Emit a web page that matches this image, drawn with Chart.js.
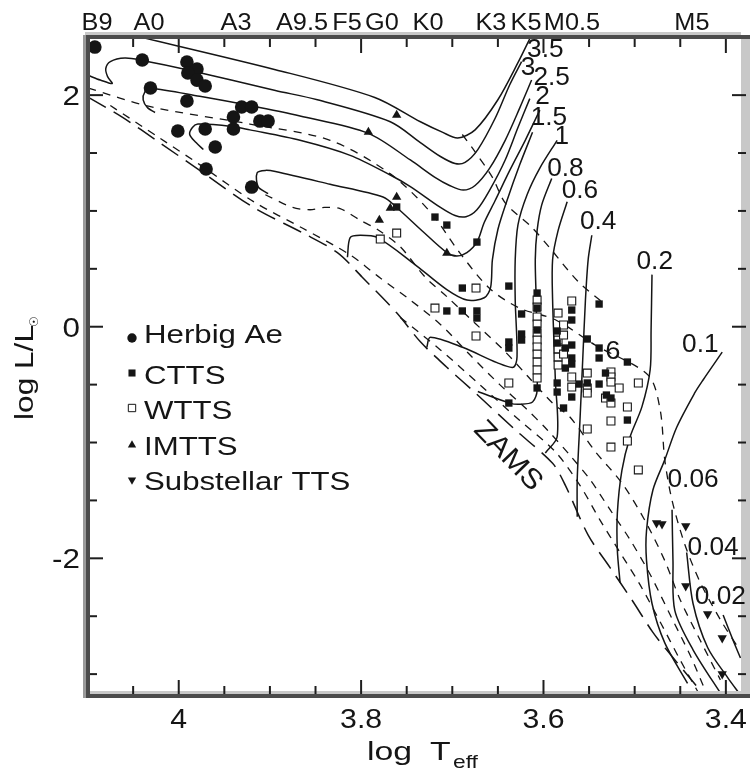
<!DOCTYPE html>
<html>
<head>
<meta charset="utf-8">
<title>HR diagram</title>
<script src="https://cdn.jsdelivr.net/npm/chart.js@4.4.1/dist/chart.umd.min.js"></script>
<style>
  html, body { margin: 0; padding: 0; background: #fff; }
  canvas { display: block; }
</style>
</head>
<body>
<canvas id="hrd" width="750" height="776"></canvas>
<script>
(function () {
    "use strict";

    // axis limits; log Teff runs right to left
    const TEFF_RANGE = [3.3834, 4.0995];
    const LUM_RANGE = [-3.189, 2.502];

    const X_TICK_LABELS = [4, 3.8, 3.6, 3.4];
    const Y_TICK_LABELS = [2, 0, -2];

    const SPECTRAL_TYPES = ["B9", "A0", "A3", "A9.5", "F5", "G0", "K0", "K3", "K5", "M0.5", "M5"];
    const SPECTRAL_TEFF = [4.0896, 4.0326, 3.9372, 3.8648, 3.8155, 3.7771, 3.7266, 3.6576, 3.6192, 3.5688, 3.4372];

    // evolutionary tracks, [log Teff, log L]
    const TRACK_UPPER = [[3.613, 2.52], [3.628, 2.28], [3.650, 1.96], [3.675, 1.70], [3.694, 1.63], [3.711, 1.68],
        [3.735, 1.77], [3.785, 1.98], [3.894, 2.22], [4.052, 2.52]];
    const TRACK_3_5 = [[3.624, 2.29], [3.637, 2.09], [3.653, 1.80], [3.672, 1.53], [3.686, 1.42], [3.697, 1.41],
        [3.713, 1.47], [3.735, 1.59], [3.768, 1.77], [3.848, 1.96], [3.894, 2.04], [3.991, 2.22], [4.040, 2.30],
        [4.059, 2.32], [4.075, 2.29], [4.080, 2.23], [4.078, 2.16], [4.073, 2.10], [4.086, 2.13], [4.099, 2.17]];
    const TRACK_3 = [[3.613, 2.13], [3.626, 1.89], [3.642, 1.61], [3.659, 1.37], [3.675, 1.22], [3.688, 1.18],
        [3.703, 1.22], [3.719, 1.29], [3.746, 1.44], [3.792, 1.67], [3.867, 1.82], [3.922, 1.91], [3.977, 1.99],
        [4.031, 2.06], [4.037, 2.03], [4.039, 1.96], [4.034, 1.89], [4.026, 1.85]];
    const TRACK_2_5 = [[3.615, 1.97], [3.628, 1.72], [3.642, 1.44], [3.659, 1.18], [3.673, 1.01], [3.685, 0.95],
        [3.697, 0.96], [3.713, 1.03], [3.746, 1.21], [3.768, 1.31], [3.812, 1.48], [3.867, 1.61], [3.922, 1.70],
        [3.942, 1.73], [3.979, 1.75], [3.985, 1.72], [3.988, 1.66], [3.981, 1.59], [3.973, 1.53]];
    const TRACK_2 = [[3.604, 1.87], [3.620, 1.61], [3.637, 1.35], [3.653, 1.09], [3.665, 0.90], [3.673, 0.73],
        [3.684, 0.64], [3.695, 0.61], [3.706, 0.64], [3.732, 0.82], [3.761, 1.03], [3.776, 1.12], [3.834, 1.23],
        [3.894, 1.34], [3.905, 1.35], [3.914, 1.33], [3.913, 1.21], [3.902, 1.15]];
    const TRACK_1_5 = [[3.612, 1.68], [3.626, 1.40], [3.640, 1.09], [3.650, 0.84], [3.656, 0.58], [3.658, 0.34],
        [3.665, 0.25], [3.684, 0.23], [3.706, 0.32], [3.743, 0.55], [3.782, 0.77], [3.801, 0.79], [3.812, 0.77],
        [3.815, 0.60]];
    const TRACK_1 = [[3.585, 1.61], [3.604, 1.37], [3.618, 1.14], [3.628, 0.88], [3.631, 0.58], [3.631, 0.23],
        [3.629, -0.26], [3.633, -0.35], [3.651, -0.31], [3.688, -0.18], [3.724, -0.09], [3.728, -0.18]];
    const TRACK_0_8 = [[3.591, 1.28], [3.602, 1.05], [3.607, 0.83], [3.609, 0.58], [3.608, 0.23], [3.607, -0.55],
        [3.612, -0.65], [3.626, -0.67], [3.637, -0.66], [3.672, -0.56]];
    const TRACK_0_6 = [[3.574, 1.08], [3.584, 0.83], [3.590, 0.58], [3.590, 0.23], [3.587, -0.46], [3.585, -0.95],
        [3.598, -1.09]];
    const TRACK_0_4 = [[3.547, 0.79], [3.551, 0.58], [3.554, 0.23], [3.557, -0.29], [3.560, -0.81], [3.563, -1.32],
        [3.563, -1.64]];
    const TRACK_0_2 = [[3.481, 0.45], [3.482, -0.03], [3.483, -0.37], [3.492, -0.69], [3.505, -0.95], [3.514, -1.24],
        [3.519, -1.61], [3.519, -1.93], [3.516, -2.21]];
    const TRACK_0_1 = [[3.404, -0.22], [3.425, -0.46], [3.434, -0.57], [3.454, -0.87], [3.467, -1.15], [3.480, -1.41],
        [3.487, -1.76], [3.487, -2.02], [3.481, -2.39], [3.467, -2.73], [3.442, -3.08]];
    const TRACK_0_06 = [[3.459, -1.58], [3.458, -2.02], [3.456, -2.45], [3.436, -2.79], [3.403, -3.20]];
    const TRACK_0_04 = [[3.443, -1.95], [3.436, -2.39], [3.420, -2.77], [3.398, -3.03], [3.385, -3.17]];
    const TRACK_0_02 = [[3.403, -2.49], [3.392, -2.71], [3.384, -2.86]];

    const TRACKS = [TRACK_UPPER, TRACK_3_5, TRACK_3, TRACK_2_5, TRACK_2, TRACK_1_5, TRACK_1, TRACK_0_8,
        TRACK_0_6, TRACK_0_4, TRACK_0_2, TRACK_0_1, TRACK_0_06, TRACK_0_04, TRACK_0_02];

    const TRACK_LABELS = ["3.5", "3", "2.5", "2", "1.5", "1", "0.8", "0.6", "0.4", "0.2", "0.1", "0.06", "0.04", "0.02"];
    const TRACK_LABEL_AT = [[3.598, 2.407], [3.617, 2.251], [3.591, 2.165], [3.601, 2.001], [3.594, 1.820],
        [3.580, 1.655], [3.576, 1.379], [3.560, 1.188], [3.540, 0.921], [3.478, 0.576], [3.428, -0.141],
        [3.436, -1.307], [3.414, -1.894], [3.406, -2.317]];

    // isochrones
    const ISO_A = [[3.689, 1.66], [3.675, 1.51], [3.656, 1.29], [3.642, 1.07], [3.613, 0.86], [3.593, 0.68],
        [3.562, 0.39], [3.532, 0.19]];
    const ISO_B = [[4.099, 2.06], [4.031, 1.90], [3.922, 1.75], [3.834, 1.61], [3.768, 1.32], [3.724, 0.99],
        [3.692, 0.64], [3.659, 0.33], [3.626, 0.16], [3.587, 0.06], [3.543, -0.16], [3.485, -0.42], [3.472, -0.72],
        [3.467, -1.15], [3.459, -1.50], [3.445, -1.88], [3.428, -2.21], [3.406, -2.53], [3.385, -2.79]];
    const ISO_C = [[3.905, 1.14], [3.875, 1.03], [3.856, 1.01], [3.840, 1.03], [3.823, 1.02], [3.801, 0.92],
        [3.782, 0.84], [3.757, 0.69], [3.730, 0.43], [3.706, 0.26], [3.675, 0.03], [3.644, -0.20], [3.617, -0.43],
        [3.590, -0.66], [3.571, -0.78], [3.543, -1.08], [3.514, -1.35], [3.489, -1.67], [3.467, -2.02],
        [3.450, -2.36], [3.428, -2.71], [3.406, -3.05]];
    const ISO_D = [[4.075, 1.91], [4.021, 1.63], [3.977, 1.40], [3.918, 1.08], [3.864, 0.85], [3.812, 0.62],
        [3.779, 0.42], [3.746, 0.23], [3.713, 0.02], [3.681, -0.24], [3.648, -0.50], [3.620, -0.70], [3.596, -0.89],
        [3.571, -1.11], [3.549, -1.32], [3.527, -1.58], [3.505, -1.84], [3.483, -2.14], [3.461, -2.49],
        [3.439, -2.84], [3.420, -3.19]];
    const ISO_E = [[3.757, 0.08], [3.713, -0.20], [3.670, -0.50], [3.626, -0.81], [3.587, -1.08], [3.560, -1.37],
        [3.538, -1.67], [3.516, -1.95], [3.494, -2.23], [3.472, -2.55], [3.450, -2.88], [3.428, -3.19]];
    const ISOCHRONES = [ISO_A, ISO_B, ISO_C, ISO_D, ISO_E];
    const ISO_LABEL = "6";
    const ISO_LABEL_AT = [3.524, -0.20];

    const ZAMS = [[4.099, 1.98], [4.062, 1.81], [4.021, 1.59], [3.977, 1.35], [3.918, 1.03], [3.864, 0.81],
        [3.826, 0.64], [3.799, 0.43], [3.761, 0.12], [3.735, -0.13], [3.706, -0.35], [3.675, -0.57], [3.631, -0.89],
        [3.590, -1.18], [3.576, -1.37], [3.551, -1.80], [3.527, -2.08], [3.503, -2.36], [3.480, -2.64],
        [3.465, -2.79], [3.423, -3.19]];
    const ZAMS_LABEL_AT = [3.639, -1.117];

    // stars
    const HERBIG_AE = [[4.092, 2.415], [4.040, 2.303], [3.991, 2.286], [3.980, 2.225], [3.990, 2.191], [3.980, 2.130],
        [3.971, 2.079], [4.031, 2.061], [3.991, 1.949], [3.931, 1.897], [3.920, 1.897], [3.940, 1.811], [3.911, 1.776],
        [3.902, 1.776], [4.001, 1.690], [3.971, 1.707], [3.940, 1.707], [3.960, 1.552], [3.970, 1.362], [3.920, 1.206]];
    const CTTS = [[3.761, 1.034], [3.719, 0.947], [3.706, 0.878], [3.673, 0.731], [3.689, 0.334], [3.638, 0.351],
        [3.607, 0.291], [3.607, 0.161], [3.624, 0.110], [3.706, 0.136], [3.689, 0.136], [3.673, 0.136], [3.673, 0.075],
        [3.624, -0.063], [3.624, -0.115], [3.638, -0.132], [3.638, -0.184], [3.607, -0.028], [3.607, -0.529],
        [3.638, -0.659], [3.585, -0.037], [3.585, -0.141], [3.585, -0.486], [3.585, -0.564], [3.578, -0.702],
        [3.569, 0.144], [3.569, 0.058], [3.569, -0.158], [3.569, -0.270], [3.569, -0.322], [3.576, -0.184],
        [3.576, -0.357], [3.569, -0.607], [3.561, -0.495], [3.552, -0.106], [3.552, -0.486], [3.539, 0.196],
        [3.539, -0.184], [3.539, -0.270], [3.539, -0.495], [3.532, -0.400], [3.531, -0.590], [3.526, -0.616],
        [3.508, -0.305], [3.508, -0.806]];
    const WTTS = [[3.779, 0.757], [3.761, 0.809], [3.719, 0.161], [3.674, 0.334], [3.674, -0.080], [3.607, 0.231],
        [3.607, 0.170], [3.607, 0.084], [3.607, 0.023], [3.607, -0.054], [3.607, -0.115], [3.607, -0.175],
        [3.607, -0.236], [3.607, -0.305], [3.607, -0.374], [3.607, -0.443], [3.638, -0.486], [3.584, 0.118],
        [3.584, -0.115], [3.584, -0.193], [3.584, -0.262], [3.584, -0.331], [3.569, 0.222], [3.578, 0.015],
        [3.578, -0.072], [3.578, -0.236], [3.569, -0.434], [3.569, -0.521], [3.552, -0.400], [3.552, -0.529],
        [3.552, -0.573], [3.526, -0.391], [3.526, -0.434], [3.526, -0.478], [3.517, -0.529], [3.496, -0.486],
        [3.532, -0.616], [3.526, -0.659], [3.508, -0.693], [3.526, -0.814], [3.508, -0.987], [3.526, -1.039],
        [3.552, -0.883], [3.496, -1.237]];
    const IMTTS = [[3.761, 1.828], [3.792, 1.681], [3.761, 1.120], [3.768, 1.025], [3.780, 0.921], [3.706, 0.636]];
    const SUBSTELLAR = [[3.476, -1.695], [3.470, -1.704], [3.444, -1.721], [3.444, -2.239], [3.420, -2.481],
        [3.404, -2.688], [3.404, -2.999]];

    const INK = "#151515";
    const FONT = "'Liberation Sans', Arial, sans-serif";

    const pts = arr => arr.map(p => ({ x: p[0], y: p[1] }));

    function curve(arr, dash, width) {
        return {
            data: pts(arr), showLine: true, borderColor: INK, borderWidth: width,
            borderDash: dash, pointRadius: 0, tension: 0.3, order: 2,
        };
    }

    function stars(arr, style, radius, fill, extra) {
        return Object.assign({
            data: pts(arr), showLine: false, pointStyle: style, pointRadius: radius,
            backgroundColor: fill, borderColor: INK, borderWidth: 0, order: 0,
        }, extra || {});
    }

    const datasets = [];
    for (const t of TRACKS) { datasets.push(curve(t, [], 1.5)); }
    for (const iso of ISOCHRONES) { datasets.push(curve(iso, [8, 7], 1.3)); }
    datasets.push(curve(ZAMS, [20, 9], 1.5));
    datasets.push(stars(HERBIG_AE, "circle", 6.8, INK));
    datasets.push(stars(CTTS, "rect", 5.2, INK));
    datasets.push(stars(WTTS, "rect", 5.6, "#fff", { borderWidth: 1.1 }));
    datasets.push(stars(IMTTS, "triangle", 5.4, INK));
    datasets.push(stars(SUBSTELLAR, "triangle", 5.4, INK, { pointRotation: 180 }));

    // text with a horizontal stretch, the lettering in this figure runs wide
    function text(ctx, str, x, y, o) {
        ctx.save();
        ctx.translate(x, y);
        if (o.rotate) { ctx.rotate(o.rotate); }
        ctx.scale(o.stretch || 1, 1);
        ctx.font = o.size + "px " + (o.family || FONT);
        ctx.textAlign = o.align || "left";
        ctx.textBaseline = "alphabetic";
        ctx.fillStyle = INK;
        ctx.fillText(str, 0, 0);
        ctx.restore();
    }

    function line(ctx, x1, y1, x2, y2) {
        ctx.beginPath();
        ctx.moveTo(x1, y1);
        ctx.lineTo(x2, y2);
        ctx.stroke();
    }

    const framePlugin = {
        id: "frame",
        afterDatasetsDraw(chart) {
            const { ctx, chartArea: a, scales } = chart;
            const W = chart.width;
            ctx.save();
            ctx.fillStyle = "#c8c8c8";
            ctx.fillRect(a.right, a.top - 2, W - a.right, a.bottom - a.top + 4);
            ctx.fillRect(a.left - 3, a.top - 5, a.right - a.left + 3, 3);
            ctx.fillRect(a.left, a.bottom - 5, a.right - a.left, 3);
            ctx.fillStyle = "#9a9a9a";
            ctx.fillRect(a.left - 5, a.top - 2, 3, a.bottom - a.top + 4);
            ctx.fillStyle = "#4b4b4b";
            ctx.fillRect(a.left - 2, a.top - 2, 4, a.bottom - a.top + 4);
            ctx.fillRect(a.left - 2, a.top - 2, W - a.left + 2, 4);
            ctx.fillRect(a.left - 2, a.bottom - 2, W - a.left + 2, 4);

            ctx.strokeStyle = "#1e1e1e";
            ctx.lineWidth = 2;
            const xs = scales.x, ys = scales.y;
            for (const t of xs.ticks) {
                const px = xs.getPixelForValue(t.value);
                const major = Math.abs(t.value * 5 - Math.round(t.value * 5)) < 1e-6;
                const len = major ? 14 : 8;
                line(ctx, px, a.bottom - 2, px, a.bottom - 2 - len);
                line(ctx, px, a.top + 2, px, a.top + 2 + len);
            }
            for (const t of ys.ticks) {
                const py = ys.getPixelForValue(t.value);
                if (py < a.top + 5 || py > a.bottom - 5) { continue; }
                const major = Math.abs(t.value / 2 - Math.round(t.value / 2)) < 1e-6;
                const len = major ? 13 : 7;
                line(ctx, a.left + 2, py, a.left + 2 + len, py);
                line(ctx, W - 4, py, W - 5 - len, py);
            }
            ctx.restore();
        },
    };

    const textPlugin = {
        id: "annotations",
        afterDraw(chart) {
            const { ctx, scales } = chart;
            const xs = scales.x, ys = scales.y;

            for (const v of Y_TICK_LABELS) {
                text(ctx, String(v), 80, ys.getPixelForValue(v) + 10, { size: 28, align: "right", stretch: 1.12 });
            }
            for (const v of X_TICK_LABELS) {
                text(ctx, String(v), xs.getPixelForValue(v), 727.5, { size: 27, align: "center", stretch: 1.12 });
            }
            SPECTRAL_TYPES.forEach((s, i) => {
                text(ctx, s, xs.getPixelForValue(SPECTRAL_TEFF[i]), 30, { size: 23, align: "center", stretch: 1.1 });
            });

            // axis titles
            text(ctx, "log", 367, 760, { size: 26, stretch: 1.3 });
            text(ctx, "T", 430, 760, { size: 26, stretch: 1.3 });
            text(ctx, "eff", 453, 768, { size: 19, stretch: 1.2 });
            text(ctx, "log L/L", 33, 420, { size: 26, stretch: 1.217, rotate: -Math.PI / 2 });
            text(ctx, "\u2609", 38, 327, { size: 12, family: "'DejaVu Sans', sans-serif", rotate: -Math.PI / 2 });

            // track masses
            TRACK_LABELS.forEach((s, i) => {
                const p = TRACK_LABEL_AT[i];
                text(ctx, s, xs.getPixelForValue(p[0]), ys.getPixelForValue(p[1]) + 9,
                     { size: 25, align: "center", stretch: 1.05 });
            });
            text(ctx, ISO_LABEL, xs.getPixelForValue(ISO_LABEL_AT[0]), ys.getPixelForValue(ISO_LABEL_AT[1]) + 9,
                 { size: 26, align: "center", stretch: 1.05 });

            // ZAMS, set along the line
            ctx.save();
            ctx.translate(xs.getPixelForValue(ZAMS_LABEL_AT[0]), ys.getPixelForValue(ZAMS_LABEL_AT[1]));
            ctx.rotate(46 * Math.PI / 180);
            ctx.scale(1.1, 1);
            ctx.font = "28px " + FONT;
            ctx.textAlign = "center";
            ctx.textBaseline = "middle";
            ctx.fillStyle = INK;
            ctx.fillText("ZAMS", 0, 0);
            ctx.restore();

            // legend
            const rows = [
                ["Herbig Ae", { pointStyle: "circle", radius: 4.7 }, INK, 338, 343],
                ["CTTS", { pointStyle: "rect", radius: 5 }, INK, 373, 384],
                ["WTTS", { pointStyle: "rect", radius: 5.2, borderWidth: 1 }, "#fff", 408, 419],
                ["IMTTS", { pointStyle: "triangle", radius: 4.8 }, INK, 445, 455],
                ["Substellar TTS", { pointStyle: "triangle", radius: 4.8, rotation: 180 }, INK, 480, 490],
            ];
            for (const [label, sym, fill, sy, by] of rows) {
                ctx.save();
                ctx.fillStyle = fill;
                ctx.strokeStyle = INK;
                ctx.lineWidth = sym.borderWidth || 0;
                Chart.helpers.drawPoint(ctx, Object.assign({ borderWidth: 0, rotation: 0 }, sym), 132, sy);
                ctx.restore();
                text(ctx, label, 144, by, { size: 26, stretch: 1.2 });
            }
        },
    };

    const hidden = { display: false, drawTicks: false };
    new Chart(document.getElementById("hrd"), {
        type: "scatter",
        data: { datasets },
        options: {
            responsive: false,
            animation: false,
            events: [],
            layout: { padding: { right: 9 } },
            plugins: { legend: { display: false }, tooltip: { enabled: false } },
            scales: {
                x: {
                    type: "linear", position: "bottom", reverse: true,
                    min: TEFF_RANGE[0], max: TEFF_RANGE[1],
                    ticks: { display: false, stepSize: 0.05, includeBounds: false, maxTicksLimit: 100 },
                    grid: hidden, border: { display: false },
                    afterFit(s) { s.height = 80; },
                },
                xTop: {
                    type: "linear", position: "top", reverse: true,
                    min: TEFF_RANGE[0], max: TEFF_RANGE[1],
                    ticks: { display: false }, grid: hidden, border: { display: false },
                    afterFit(s) { s.height = 37; },
                },
                y: {
                    type: "linear", position: "left",
                    min: LUM_RANGE[0], max: LUM_RANGE[1],
                    ticks: { display: false, stepSize: 0.5, includeBounds: false, maxTicksLimit: 100 },
                    grid: hidden, border: { display: false },
                    afterFit(s) { s.width = 88; },
                },
            },
        },
        plugins: [framePlugin, textPlugin],
    });
})();
</script>
</body>
</html>
